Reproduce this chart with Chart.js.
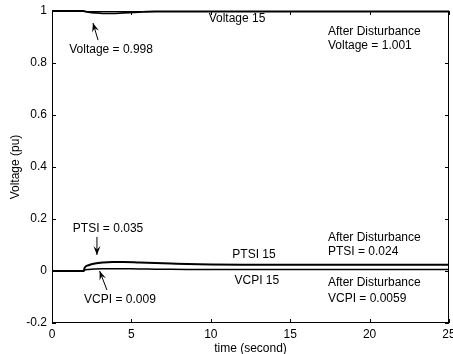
<!DOCTYPE html>
<html><head><meta charset="utf-8">
<script src="https://cdn.jsdelivr.net/npm/chart.js@4.4.0/dist/chart.umd.min.js"></script>
<style>html,body{margin:0;padding:0;background:#fff;}#wrap{width:453px;height:354px;}</style>
</head><body><div id="wrap"><canvas id="c" width="453" height="354"></canvas></div>
<script>
const time    = [0, 2, 2.05, 2.3, 2.7, 3.2, 3.8, 4.5, 5.5, 6.5, 7.5, 8.5, 10, 12, 15, 20, 25];
const voltage = [1, 1, 0.999, 0.996, 0.993, 0.991, 0.991, 0.993, 0.996, 0.998, 0.998, 0.998, 0.998, 0.998, 0.998, 0.998, 0.998];
const ptsi    = [0, 0, 0.012, 0.022, 0.029, 0.033, 0.035, 0.035, 0.033, 0.031, 0.029, 0.027, 0.025, 0.024, 0.024, 0.024, 0.024];
const vcpi    = [0, 0, 0.003, 0.006, 0.008, 0.009, 0.009, 0.0085, 0.008, 0.0072, 0.0066, 0.0062, 0.006, 0.0059, 0.0059, 0.0059, 0.0059];
const xTicks  = [0, 5, 10, 15, 20, 25];
const yTicks  = [-0.2, 0, 0.2, 0.4, 0.6, 0.8, 1];
const yTickLabels = ['-0.2', '0', '0.2', '0.4', '0.6', '0.8', '1'];
const labels  = [
  {text: 'Voltage = 0.998', x: 3.72, y: 0.85, align: 'center'},
  {text: 'Voltage 15', x: 11.65, y: 0.97, align: 'center'},
  {text: 'After Disturbance', x: 17.38, y: 0.919, align: 'left'},
  {text: 'Voltage = 1.001', x: 17.38, y: 0.865, align: 'left'},
  {text: 'PTSI = 0.035', x: 3.53, y: 0.1615, align: 'center'},
  {text: 'PTSI 15', x: 12.72, y: 0.0615, align: 'center'},
  {text: 'After Disturbance', x: 17.38, y: 0.127, align: 'left'},
  {text: 'PTSI = 0.024', x: 17.38, y: 0.073, align: 'left'},
  {text: 'VCPI 15', x: 12.9, y: -0.0385, align: 'center'},
  {text: 'After Disturbance', x: 17.38, y: -0.046, align: 'left'},
  {text: 'VCPI = 0.0059', x: 17.38, y: -0.108, align: 'left'},
  {text: 'VCPI = 0.009', x: 4.28, y: -0.1115, align: 'center'}
];
const arrows = [
  {x0: 2.9, y0: 0.888, x1: 2.58, y1: 0.954},
  {x0: 2.83, y0: 0.131, x1: 2.83, y1: 0.062},
  {x0: 3.46, y0: -0.073, x1: 3.0, y1: 0.0}
];
const FONT = '"Liberation Sans", Arial, sans-serif';
const pts = arr => time.map((t, i) => ({x: t, y: arr[i]}));

const decor = {
  id: 'decor',
  afterDatasetsDraw(chart) {
    const {ctx, chartArea: a, scales: {x, y}} = chart;
    ctx.save();
    ctx.strokeStyle = '#000';
    ctx.lineWidth = 1;
    ctx.strokeRect(a.left + 0.5, a.top + 0.5, a.right - a.left - 1, a.bottom - a.top - 1);
    const tl = 4;
    ctx.beginPath();
    xTicks.forEach(v => {
      const px = Math.round(x.getPixelForValue(v)) + 0.5;
      ctx.moveTo(px, a.bottom); ctx.lineTo(px, a.bottom - tl);
      ctx.moveTo(px, a.top); ctx.lineTo(px, a.top + tl);
    });
    yTicks.forEach(v => {
      const py = Math.round(y.getPixelForValue(v)) + 0.5;
      ctx.moveTo(a.left, py); ctx.lineTo(a.left + tl, py);
      ctx.moveTo(a.right, py); ctx.lineTo(a.right - tl, py);
    });
    ctx.stroke();
    ctx.fillStyle = '#000';
    ctx.font = '12px ' + FONT;
    ctx.textBaseline = 'middle';
    labels.forEach(l => {
      ctx.textAlign = l.align;
      ctx.fillText(l.text, x.getPixelForValue(l.x), y.getPixelForValue(l.y));
    });
    arrows.forEach(ar => {
      const x0 = x.getPixelForValue(ar.x0), y0 = y.getPixelForValue(ar.y0);
      const x1 = x.getPixelForValue(ar.x1), y1 = y.getPixelForValue(ar.y1);
      const ang = Math.atan2(y1 - y0, x1 - x0);
      ctx.lineWidth = 1;
      ctx.beginPath(); ctx.moveTo(x0, y0); ctx.lineTo(x1, y1); ctx.stroke();
      const L = 9, W = 3.5;
      const bx = x1 - L * Math.cos(ang), by = y1 - L * Math.sin(ang);
      const nx = -Math.sin(ang), ny = Math.cos(ang);
      const mx = x1 - 0.6 * L * Math.cos(ang), my = y1 - 0.6 * L * Math.sin(ang);
      ctx.beginPath();
      ctx.moveTo(x1, y1);
      ctx.lineTo(bx + W * nx, by + W * ny);
      ctx.lineTo(mx, my);
      ctx.lineTo(bx - W * nx, by - W * ny);
      ctx.closePath(); ctx.fill();
    });
    ctx.restore();
  }
};

new Chart(document.getElementById('c'), {
  type: 'line',
  data: {
    datasets: [
      {label: 'Voltage 15', data: pts(voltage), borderColor: '#000', borderWidth: 1.8, pointRadius: 0, cubicInterpolationMode: 'monotone', clip: false},
      {label: 'PTSI 15', data: pts(ptsi), borderColor: '#000', borderWidth: 2, pointRadius: 0, cubicInterpolationMode: 'monotone'},
      {label: 'VCPI 15', data: pts(vcpi), borderColor: '#000', borderWidth: 1.5, pointRadius: 0, cubicInterpolationMode: 'monotone'}
    ]
  },
  options: {
    responsive: false,
    animation: false,
    events: [],
    layout: {padding: {top: 11, right: 4, left: 0, bottom: 0}},
    plugins: {legend: {display: false}, tooltip: {enabled: false}},
    scales: {
      x: {
        type: 'linear', min: 0, max: 25,
        afterBuildTicks: s => { s.ticks = xTicks.map(v => ({value: v})); },
        afterFit: s => { s.height = 31; s.paddingLeft = 0; s.paddingRight = 0; },
        grid: {display: false, drawTicks: false},
        border: {display: false},
        ticks: {color: '#000', font: {family: FONT, size: 12}, padding: 4, maxRotation: 0, autoSkip: false},
        title: {display: true, text: 'time (second)', color: '#000', font: {family: FONT, size: 12}, padding: {top: 0, bottom: -1.5}}
      },
      y: {
        type: 'linear', min: -0.2, max: 1,
        afterBuildTicks: s => { s.ticks = yTicks.map(v => ({value: v})); },
        afterFit: s => { s.width = 52; s.paddingTop = 0; s.paddingBottom = 0; },
        grid: {display: false, drawTicks: false},
        border: {display: false},
        ticks: {color: '#000', font: {family: FONT, size: 12}, padding: 5, autoSkip: false,
          callback: (v, i) => yTickLabels[i]},
        title: {display: true, text: 'Voltage (pu)', color: '#000', font: {family: FONT, size: 12}, padding: {top: 8, bottom: 0}}
      }
    }
  },
  plugins: [decor]
});
</script></body></html>
